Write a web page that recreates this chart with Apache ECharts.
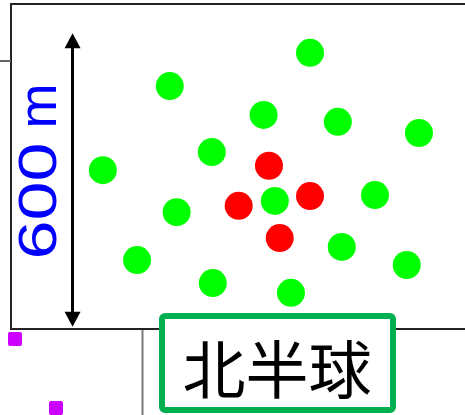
<!DOCTYPE html>
<html>
<head>
<meta charset="utf-8">
<script src="https://cdn.jsdelivr.net/npm/echarts@6/dist/echarts.min.js"></script>
<style>
html,body{margin:0;padding:0;background:#fff;}
#chart{width:465px;height:415px;}
</style>
</head>
<body>
<div id="chart"></div>
<script>
// Positions in metres (the vertical arrow spans 0..600 m)
var greenPoints = [
  [62, 320], [199, 492], [486, 560], [391, 433], [543, 419],
  [709, 396], [285, 357], [414, 257], [619, 269], [213, 234],
  [551, 163], [684, 126], [132, 136], [287, 89], [447, 69]
];
var redPoints = [
  [402, 329], [486, 267], [340, 247], [424, 181]
];
var scaleLength = [0, 600];
var scaleLabel = '600';
var scaleUnit = 'm';
var regionLabel = '北半球';

var chart = echarts.init(document.getElementById('chart'), null, {renderer: 'canvas'});

var hiddenAxis = {
  type: 'value',
  axisLine: {show: false},
  axisTick: {show: false},
  axisLabel: {show: false},
  splitLine: {show: false}
};

chart.setOption({
  animation: false,
  backgroundColor: '#ffffff',
  grid: {
    show: true,
    left: 11, top: 4, width: 470, height: 325,
    outerBoundsMode: 'none',
    containLabel: false,
    borderColor: '#222222', borderWidth: 2,
    backgroundColor: 'transparent'
  },
  xAxis: Object.assign({min: -126, max: 836}, hiddenAxis),
  yAxis: Object.assign({min: -5, max: 660}, hiddenAxis),
  series: [
    {
      type: 'scatter',
      data: greenPoints,
      symbol: 'circle',
      symbolSize: 28,
      itemStyle: {color: '#00ff00', opacity: 1},
      silent: true,
      markLine: {
        silent: true,
        symbol: ['triangle', 'triangle'],
        symbolSize: [16, 15],
        label: {show: false},
        lineStyle: {color: '#000000', width: 3, type: 'solid'},
        data: [[
          {coord: [0, scaleLength[0] + 15]},
          {coord: [0, scaleLength[1] - 15]}
        ]]
      }
    },
    {
      type: 'scatter',
      data: redPoints,
      symbol: 'circle',
      symbolSize: 28,
      itemStyle: {color: '#ff0000', opacity: 1},
      silent: true
    }
  ],
  graphic: [
    {type: 'line', shape: {x1: 0, y1: 61, x2: 11, y2: 61}, style: {stroke: '#666666', lineWidth: 2}},
    {type: 'line', shape: {x1: 142.5, y1: 330, x2: 142.5, y2: 415}, style: {stroke: '#777777', lineWidth: 2}},
    {type: 'rect', shape: {x: 8, y: 332, width: 14, height: 14, r: 2}, style: {fill: '#cc00ff'}},
    {type: 'rect', shape: {x: 49, y: 401, width: 14, height: 14, r: 2}, style: {fill: '#cc00ff'}},
    {
      type: 'text', x: 41, y: 201, rotation: Math.PI / 2, scaleX: 1.3,
      style: {text: scaleLabel, fill: '#0000ff', font: '54px "Liberation Sans", Arial, sans-serif', textAlign: 'center', textVerticalAlign: 'middle'}
    },
    {
      type: 'text', x: 41, y: 106, rotation: Math.PI / 2,
      style: {text: scaleUnit, fill: '#0000ff', font: '54px "Liberation Sans", Arial, sans-serif', textAlign: 'center', textVerticalAlign: 'middle'}
    },
    {
      type: 'rect', shape: {x: 162, y: 316, width: 231, height: 94, r: 3},
      style: {fill: '#ffffff', stroke: '#00b050', lineWidth: 6}
    },
    {
      type: 'text', x: 277, y: 369,
      style: {text: regionLabel, fill: '#000000', font: '63px "Noto Sans CJK JP", "Noto Sans CJK SC", sans-serif', textAlign: 'center', textVerticalAlign: 'middle'}
    }
  ]
});
</script>
</body>
</html>
